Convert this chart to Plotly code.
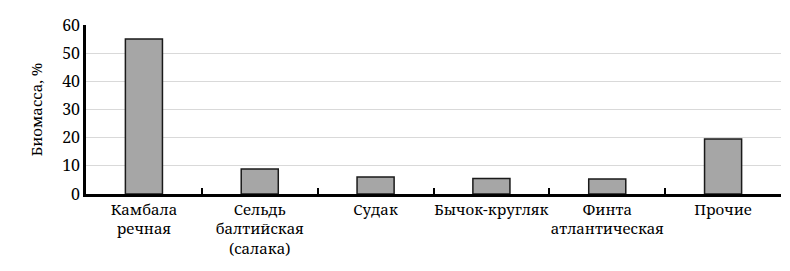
import plotly.graph_objects as go

categories = ["Камбала<br>речная", "Сельдь<br>балтийская<br>(салака)", "Судак",
              "Бычок-кругляк", "Финта<br>атлантическая", "Прочие"]
biomass = [55.0, 8.9, 6.0, 5.5, 5.3, 19.5]
y_ticks = [0, 10, 20, 30, 40, 50, 60]

FONT = "Noto Serif"

fig = go.Figure(go.Bar(
    x=categories, y=biomass,
    marker=dict(color="#a6a6a6", line=dict(color="#1a1a1a", width=1.5)),
    width=0.32,
))

fig.update_layout(
    width=790, height=271,
    margin=dict(l=86, r=9, t=25, b=77),
    paper_bgcolor="white", plot_bgcolor="white",
    font_family=FONT, font_size=15, font_color="black",
    showlegend=False,
)
fig.update_xaxes(
    type="category", tickson="boundaries", ticks="inside", ticklen=6,
    tickwidth=1.5, tickcolor="black", tickangle=0,
    showline=True, linecolor="black", linewidth=2.5, showgrid=False,
    tickfont_family=FONT, tickfont_size=15, tickfont_color="black",
)
fig.update_yaxes(
    range=[0, 60], tickvals=y_ticks, showgrid=True, gridcolor="#d9d9d9", gridwidth=1,
    showline=True, linecolor="black", linewidth=2.5, zeroline=False, ticks="",
    tickfont_family=FONT, tickfont_size=16, tickfont_color="black",
    title_text="Биомасса, %", title_font_family=FONT, title_font_size=15,
    title_font_color="black", title_standoff=16,
)

fig.write_html("out.html")
